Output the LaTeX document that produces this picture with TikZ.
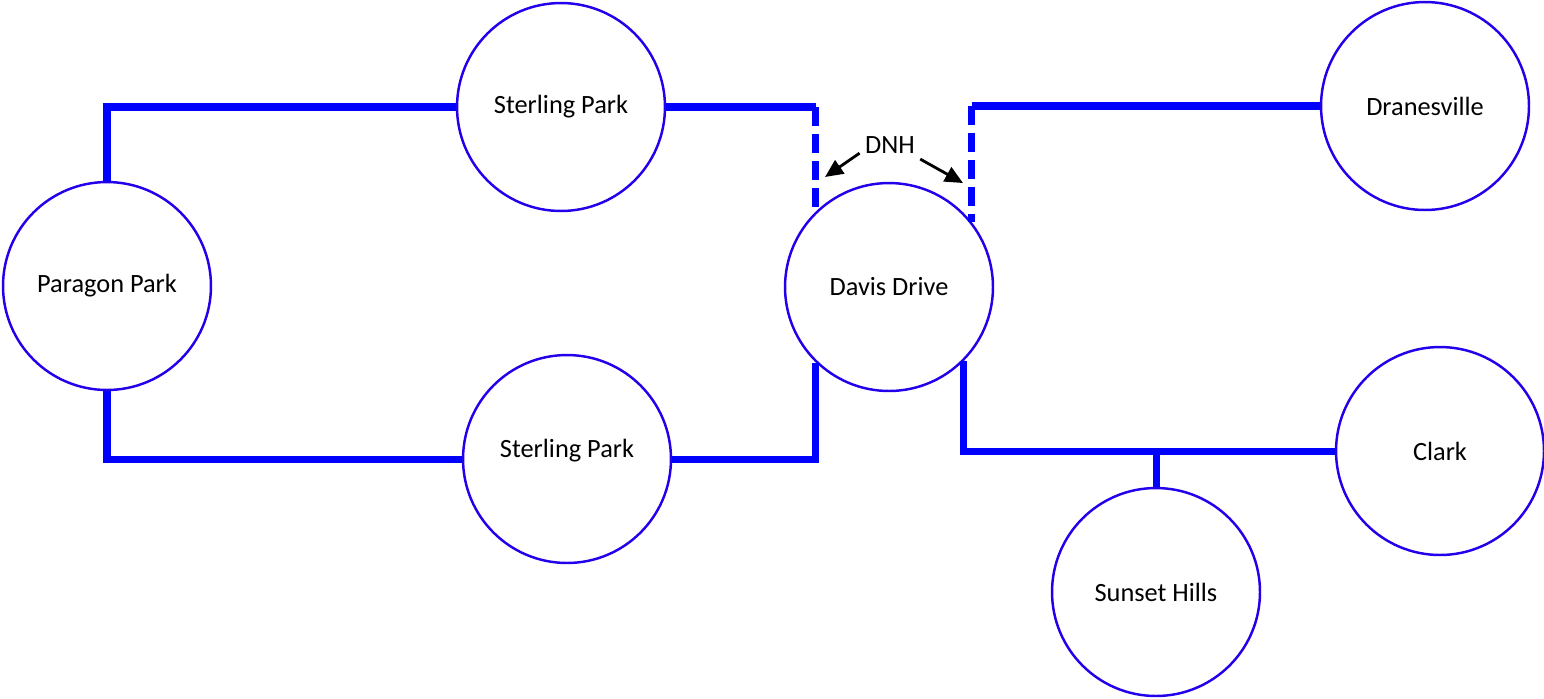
\documentclass[tikz,border=0pt]{standalone}
\usepackage{fontspec}
\setmainfont{Carlito}
\usetikzlibrary{arrows.meta}
\definecolor{ringblue}{RGB}{34,0,235}
\definecolor{feedblue}{RGB}{0,0,255}

\begin{document}
\begin{tikzpicture}[x=0.02cm, y=-0.02cm,
  every node/.style={font=\fontsize{15}{18}\selectfont},
  sub/.style={circle, draw=ringblue, line width=1.4pt, fill=white, minimum size=4.16cm, inner sep=0pt},
  feeder/.style={draw=feedblue, line width=4pt},
  open/.style={feeder, dash pattern=on 0.38cm off 0.16cm},
  pointer/.style={line width=1.6pt, -{Triangle[length=0.36cm, width=0.32cm]}}]
  \useasboundingbox (0,0) rectangle (1544,698);

  % Substations
  \node[sub] (pp)  at (107,286)  {Paragon Park};
  \node[sub] (spt) at (561,107)  {Sterling Park};
  \node[sub, text depth=0.44cm] (spb) at (567,459) {Sterling Park};
  \node[sub] (dd)  at (889,287)  {Davis Drive};
  \node[sub] (dv)  at (1425,106) {Dranesville};
  \node[sub] (ck)  at (1440,451) {Clark};
  \node[sub] (sh)  at (1156,592) {Sunset Hills};

  % Feeders
  \draw[feeder] (pp.north) |- (spt.west);
  \draw[feeder] (pp.south) |- (spb.west);
  \draw[feeder] (spt.east) -- (dd.134 |- spt.east);
  \draw[open] (dd.134 |- spt.east) -- (dd.134);
  \draw[feeder] (spb.east) -| (dd.-134);
  \draw[feeder] (dv.west) -- (dd.38 |- dv.west);
  \draw[open] (dd.38 |- dv.west) -- (dd.38);
  \draw[feeder] (dd.-45) |- (ck.west);
  \draw[feeder] (sh.north) -- (sh.north |- ck.west);

  % Do-not-hit marks
  \node[inner sep=3pt] (dnh) at (890,145) {DNH};
  \coordinate (dnhl) at (825,177);
  \coordinate (dnhr) at (963,183);
  \draw[pointer] (dnh.195) -- (dnhl);
  \draw[pointer] (dnh.-25) -- (dnhr);
\end{tikzpicture}
\end{document}
